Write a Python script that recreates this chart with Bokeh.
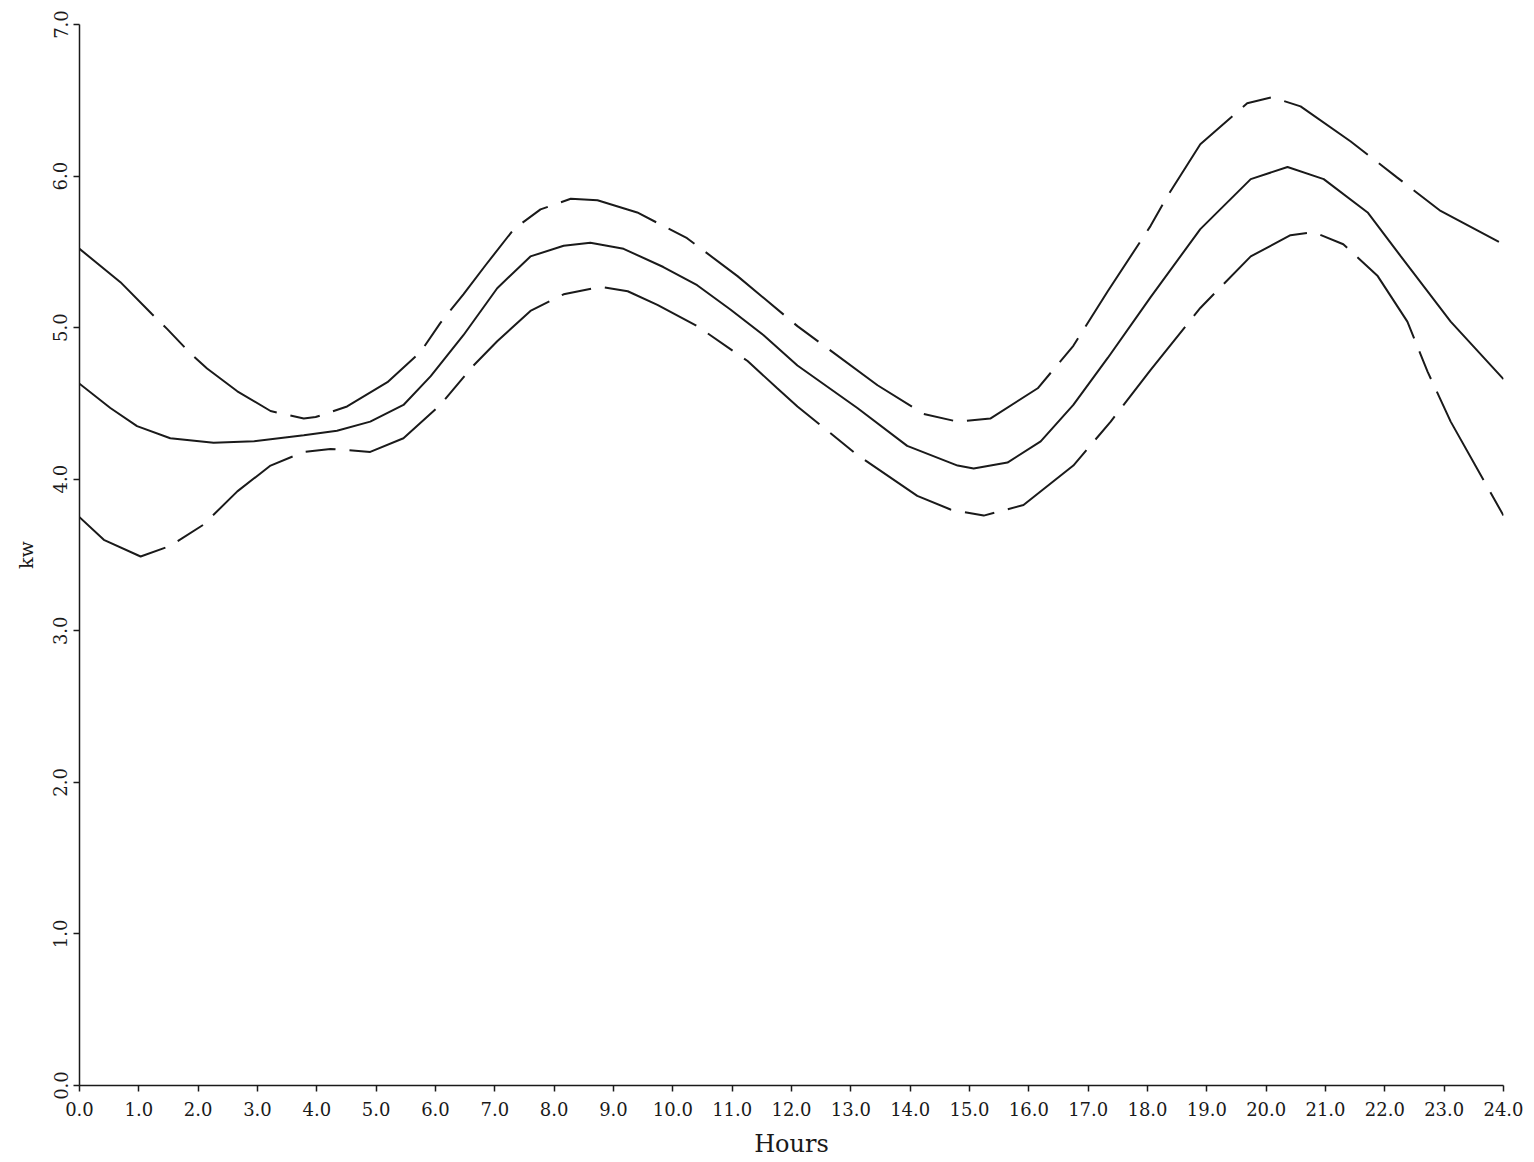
from bokeh.plotting import figure
from bokeh.models import Range1d, FixedTicker, PrintfTickFormatter
from bokeh.embed import file_html
from bokeh.resources import INLINE

# Hours (x) and kW values
hours_mid = [0, 0.52, 0.97, 1.53, 2.26, 2.94, 3.78, 4.34, 4.9, 5.46, 5.92, 6.47, 7.04, 7.6, 8.16, 8.61,
             9.17, 9.84, 10.41, 10.97, 11.53, 12.1, 13.11, 13.95, 14.8, 15.07, 15.64, 16.2, 16.75,
             17.33, 18.05, 18.89, 19.74, 20.36, 20.97, 21.71, 22.27, 23.11, 24]
kw_mid = [4.63, 4.47, 4.35, 4.27, 4.24, 4.25, 4.29, 4.32, 4.38, 4.49, 4.68, 4.95, 5.26, 5.47, 5.54, 5.56,
          5.52, 5.40, 5.28, 5.12, 4.95, 4.75, 4.47, 4.22, 4.09, 4.07, 4.11, 4.25, 4.49,
          4.80, 5.20, 5.65, 5.98, 6.06, 5.98, 5.76, 5.47, 5.04, 4.66]

hours_up = [0, 0.69, 1.22, 1.48, 1.87, 2.15, 2.66, 3.22, 3.78, 3.98, 4.51, 5.19, 5.75, 6.08, 6.47, 6.84,
            7.32, 7.77, 8.28, 8.73, 9.40, 10.24, 11.09, 12.1, 13.45, 14.23, 14.8, 15.35, 16.15, 16.75,
            17.33, 18.05, 18.34, 18.89, 19.68, 20.1, 20.58, 21.42, 22.21, 22.94, 24]
kw_up = [5.52, 5.30, 5.09, 4.99, 4.83, 4.73, 4.58, 4.45, 4.40, 4.41, 4.48, 4.64, 4.84, 5.03, 5.22, 5.41,
         5.65, 5.78, 5.85, 5.84, 5.76, 5.59, 5.34, 5.01, 4.62, 4.43, 4.38, 4.40, 4.60, 4.88,
         5.24, 5.67, 5.87, 6.21, 6.48, 6.52, 6.46, 6.23, 5.99, 5.77, 5.55]

hours_lo = [0, 0.41, 1.03, 1.53, 2.09, 2.66, 3.22, 3.78, 4.23, 4.9, 5.46, 6.08, 6.64, 7.04, 7.6, 8.16,
            8.78, 9.24, 9.74, 10.41, 11.26, 11.76, 12.1, 13.11, 14.12, 14.68, 15.24, 15.91, 16.75,
            17.38, 18.05, 18.89, 19.74, 20.41, 20.8, 21.3, 21.88, 22.38, 22.72, 23.11, 24]
kw_lo = [3.75, 3.60, 3.49, 3.56, 3.70, 3.92, 4.09, 4.18, 4.20, 4.18, 4.27, 4.49, 4.75, 4.91, 5.11, 5.22,
         5.27, 5.24, 5.15, 5.01, 4.78, 4.60, 4.48, 4.16, 3.89, 3.80, 3.76, 3.83, 4.09,
         4.38, 4.72, 5.13, 5.47, 5.61, 5.63, 5.55, 5.34, 5.04, 4.71, 4.38, 3.76]

x_ticks = list(range(0, 25))
y_ticks = [0, 1, 2, 3, 4, 5, 6, 7]

FONT = "DejaVu Serif"
INK = "#1a1a1a"

p = figure(width=1534, height=1160, output_backend="svg", toolbar_location=None,
           x_range=Range1d(0, 24), y_range=Range1d(0, 7),
           min_border_left=79, min_border_right=31, min_border_top=24, min_border_bottom=71)
p.outline_line_color = None
p.xgrid.visible = False
p.ygrid.visible = False
p.background_fill_color = "white"
p.border_fill_color = "white"

p.line(hours_mid, kw_mid, line_color=INK, line_width=2)
p.line(hours_up, kw_up, line_color=INK, line_width=2, line_dash="100 14 30 14")
p.line(hours_lo, kw_lo, line_color=INK, line_width=2, line_dash="100 14 30 14")

for ax in (p.xaxis[0], p.yaxis[0]):
    ax.axis_line_color = INK
    ax.axis_line_width = 1.5
    ax.major_tick_line_color = INK
    ax.major_tick_line_width = 1.5
    ax.major_tick_in = 0
    ax.major_tick_out = 6
    ax.minor_tick_line_color = None
    ax.major_label_text_font = FONT
    ax.major_label_text_font_size = "18px"
    ax.major_label_text_color = INK
    ax.axis_label_text_font = FONT
    ax.axis_label_text_font_style = "normal"
    ax.axis_label_text_color = INK
    ax.formatter = PrintfTickFormatter(format="%.1f")

p.xaxis[0].ticker = FixedTicker(ticks=x_ticks)
p.yaxis[0].ticker = FixedTicker(ticks=y_ticks)
p.yaxis[0].major_label_orientation = "vertical"
p.xaxis[0].major_label_standoff = 10
p.yaxis[0].major_label_standoff = 6
p.xaxis[0].axis_label = "Hours"
p.yaxis[0].axis_label = "kw"
p.xaxis[0].axis_label_text_font_size = "24px"
p.yaxis[0].axis_label_text_font_size = "19px"
p.xaxis[0].axis_label_standoff = 11
p.yaxis[0].axis_label_standoff = 14

open("out.html", "w").write(file_html(p, INLINE))
